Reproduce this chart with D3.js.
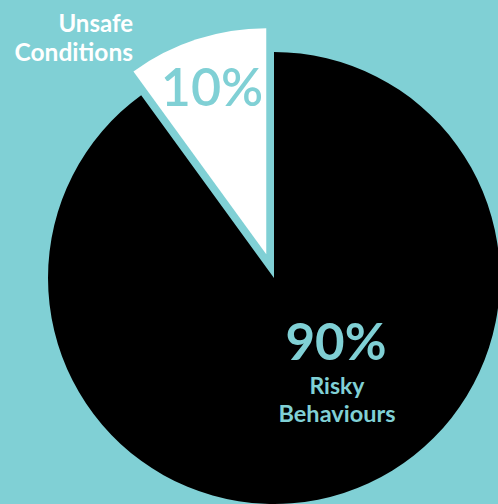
<!DOCTYPE html>
<html><head><meta charset="utf-8">
<script src="https://cdn.jsdelivr.net/npm/d3@7"></script>
<style>html,body{margin:0;padding:0;background:#80d0d5;overflow:hidden}</style>
</head><body>
<svg id="c" width="498" height="504"></svg>
<script>
const categories = ["Risky Behaviours", "Unsafe Conditions"];
const values = [90, 10];
const pctLabels = ["90%", "10%"];
const colors = ["#000000", "#ffffff"];

const bg = "#80d0d5";
const svg = d3.select("#c");
svg.append("rect").attr("width",498).attr("height",504).attr("fill",bg);
const cx = 274, cy = 278, r = 226, explode = 25;
const pie = d3.pie().sort(null).startAngle(0).endAngle(2*Math.PI);
const arcs = pie(values);
const arc = d3.arc().innerRadius(0).outerRadius(r);
const g = svg.append("g").attr("transform",`translate(${cx},${cy})`);
arcs.forEach((a,i)=>{
  const mid = (a.startAngle+a.endAngle)/2;
  const off = i===1 ? explode : 0;
  const dx = Math.sin(mid)*off, dy = -Math.cos(mid)*off;
  g.append("path").attr("d",arc(a)).attr("fill",colors[i])
   .attr("transform",`translate(${dx},${dy})`);
});
const font = "Lato, 'Open Sans', sans-serif";
// 10% label
svg.append("text").attr("x",212).attr("y",106).attr("text-anchor","middle")
  .attr("font-family",font).attr("font-weight",600).attr("font-size",52)
  .attr("fill",bg).text(pctLabels[1]);
// Unsafe Conditions
const uc = categories[1].split(" ");
svg.append("text").attr("x",133).attr("y",32).attr("text-anchor","end")
  .attr("font-family",font).attr("font-weight",700).attr("font-size",24)
  .attr("fill","#ffffff").text(uc[0]);
svg.append("text").attr("x",133).attr("y",61).attr("text-anchor","end")
  .attr("font-family",font).attr("font-weight",700).attr("font-size",24.5)
  .attr("fill","#ffffff").text(uc[1]);
// 90%
svg.append("text").attr("x",336).attr("y",360).attr("text-anchor","middle")
  .attr("font-family",font).attr("font-weight",700).attr("font-size",51)
  .attr("fill",bg).text(pctLabels[0]);
const rb = categories[0].split(" ");
svg.append("text").attr("x",337).attr("y",394).attr("text-anchor","middle")
  .attr("font-family",font).attr("font-weight",700).attr("font-size",23)
  .attr("fill",bg).text(rb[0]);
svg.append("text").attr("x",337).attr("y",422).attr("text-anchor","middle")
  .attr("font-family",font).attr("font-weight",700).attr("font-size",23.5)
  .attr("fill",bg).text(rb[1]);
</script>
</body></html>
